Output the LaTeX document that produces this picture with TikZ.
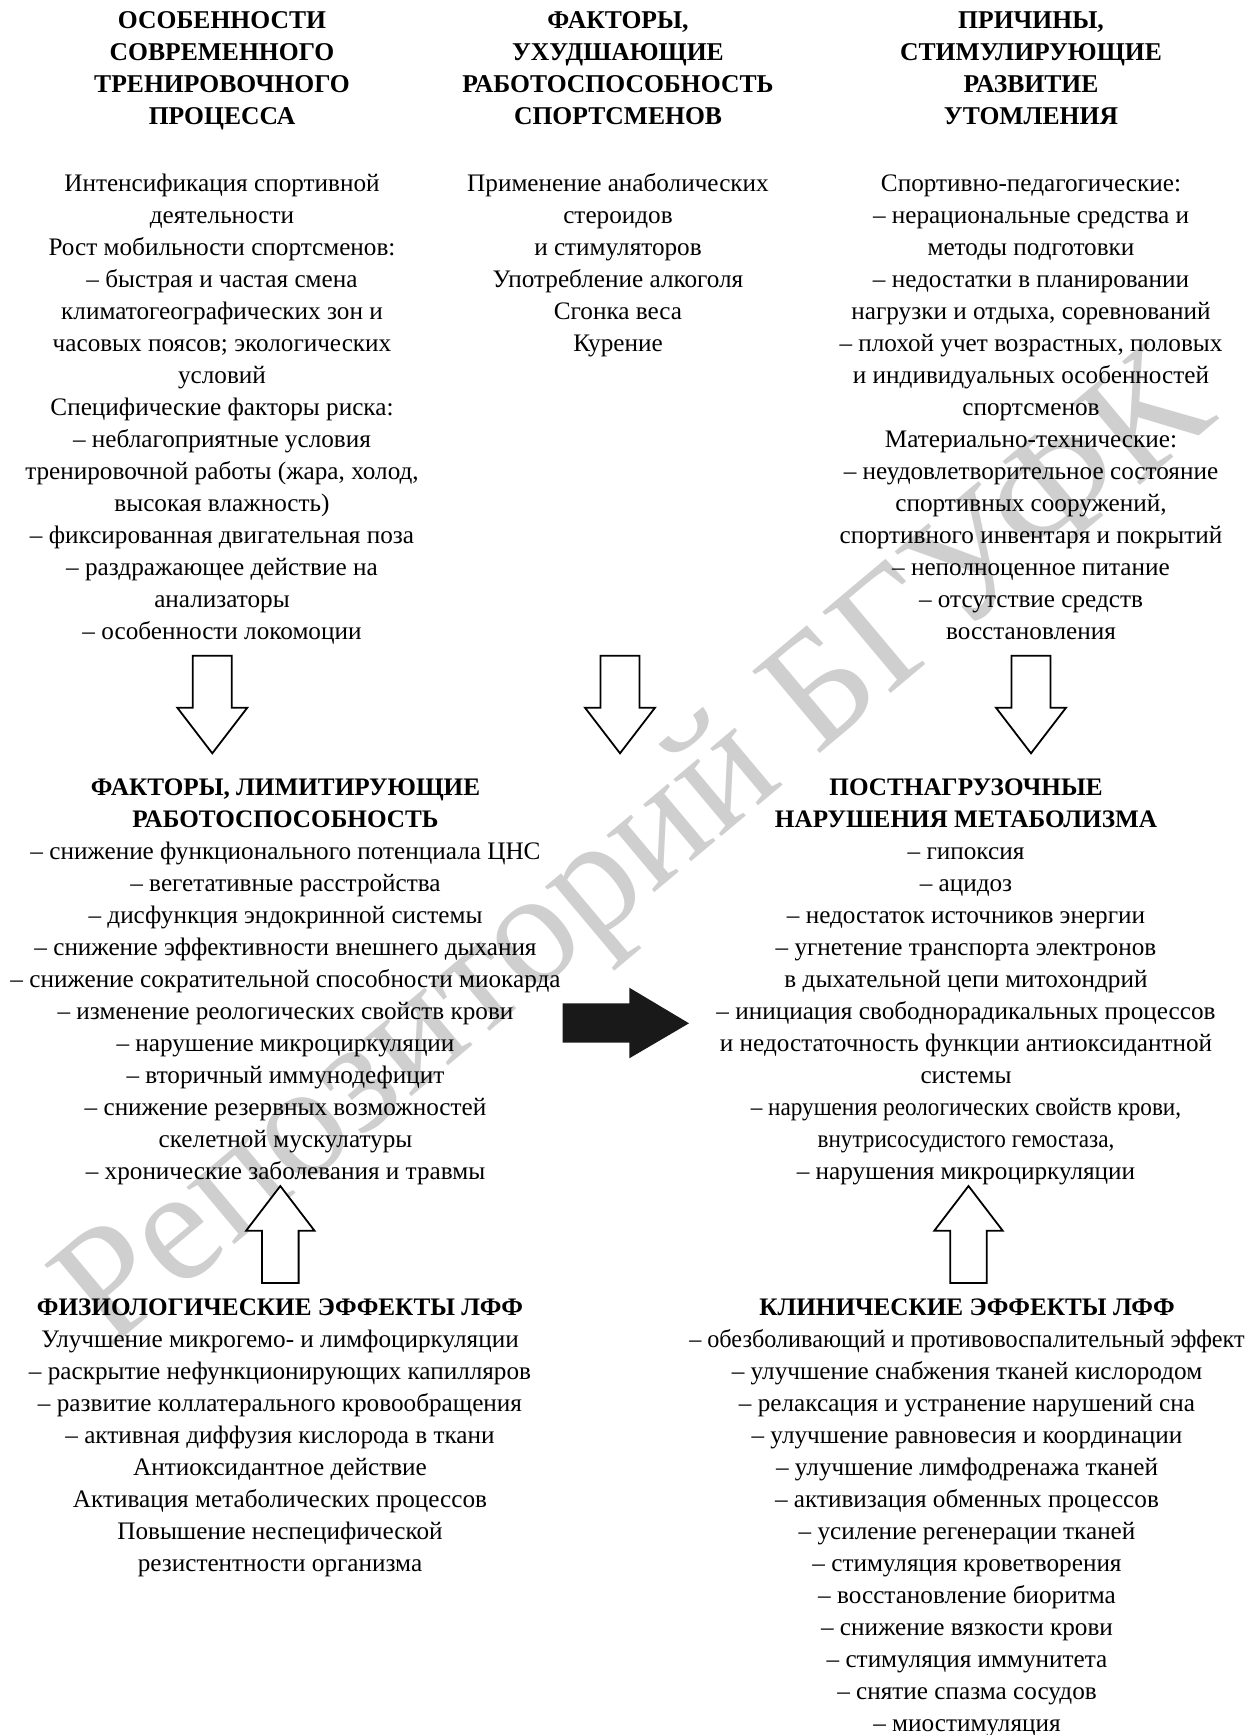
\documentclass[tikz,border=0pt]{standalone}
\usepackage{fontspec}
\setmainfont{Liberation Serif}
\usepackage{graphicx}
\newcommand\blk[1]{\begin{tabular}[t]{@{}c@{}}#1\end{tabular}}
\newcommand\cnd[2]{\scalebox{#1}[1]{#2}}
\tikzset{
  hdtext/.style={font=\bfseries\fontsize{12.8}{16}\selectfont, inner sep=0pt, anchor=base},
  bdtext/.style={font=\fontsize{12.6}{16}\selectfont, inner sep=0pt, anchor=base},
  hollowarrow/.style={draw=black, line width=0.9pt, fill=white, line join=miter},
  solidarrow/.style={fill=black!90, draw=none},
  watermark/.style={font=\fontsize{81}{90}\selectfont, text=black!19, inner sep=0pt, rotate=40},
  pics/downarr/.style={code={
    \draw[hollowarrow] (-19.5,0) -- (19.5,0) -- (19.5,52) -- (35,52) -- (0,97.6) -- (-35,52) -- (-19.5,52) -- cycle;}},
  pics/uparr/.style={code={
    \draw[hollowarrow] (-18.3,0) -- (18.3,0) -- (18.3,-52.3) -- (34.2,-52.3) -- (0,-97) -- (-34.2,-52.3) -- (-18.3,-52.3) -- cycle;}}
}
\begin{document}
\begin{tikzpicture}[x=0.5pt,y=-0.5pt]
\useasboundingbox (0,0) rectangle (1248,1735);
\fill[white] (0,0) rectangle (1248,1735);

\node[watermark] (wm) at (640,855) {Репозиторий БГУФК};

% top headers
\node[hdtext] (h1) at (222,28.5) {\blk{ОСОБЕННОСТИ\\СОВРЕМЕННОГО\\ТРЕНИРОВОЧНОГО\\ПРОЦЕССА}};
\node[hdtext] (h2) at (618,28.5) {\blk{ФАКТОРЫ,\\УХУДШАЮЩИЕ\\РАБОТОСПОСОБНОСТЬ\\СПОРТСМЕНОВ}};
\node[hdtext] (h3) at (1031,28.5) {\blk{ПРИЧИНЫ,\\СТИМУЛИРУЮЩИЕ\\РАЗВИТИЕ\\УТОМЛЕНИЯ}};

% top bodies
\node[bdtext] (b1) at (222,191) {\blk{Интенсификация спортивной\\деятельности\\Рост мобильности спортсменов:\\– быстрая и частая смена\\климатогеографических зон и\\часовых поясов; экологических\\условий\\Специфические факторы риска:\\– неблагоприятные условия\\тренировочной работы (жара, холод,\\высокая влажность)\\– фиксированная двигательная поза\\– раздражающее действие на\\анализаторы\\– особенности локомоции}};
\node[bdtext] (b2) at (618,191) {\blk{Применение анаболических\\стероидов\\и стимуляторов\\Употребление алкоголя\\Сгонка веса\\Курение}};
\node[bdtext] (b3) at (1031,191) {\blk{Спортивно-педагогические:\\– нерациональные средства и\\методы подготовки\\– недостатки в планировании\\нагрузки и отдыха, соревнований\\– плохой учет возрастных, половых\\и индивидуальных особенностей\\спортсменов\\Материально-технические:\\– неудовлетворительное состояние\\спортивных сооружений,\\спортивного инвентаря и покрытий\\– неполноценное питание\\– отсутствие средств\\восстановления}};

% down arrows
\pic (d1) at (212.3,655.7) {downarr};
\pic (d2) at (620,655.7) {downarr};
\pic (d3) at (1031,655.7) {downarr};

% middle blocks
\node[bdtext] (m1) at (285.5,795) {\blk{\textbf{ФАКТОРЫ, ЛИМИТИРУЮЩИЕ}\\\textbf{РАБОТОСПОСОБНОСТЬ}\\– снижение функционального потенциала ЦНС\\– вегетативные расстройства\\– дисфункция эндокринной системы\\– снижение эффективности внешнего дыхания\\– снижение сократительной способности миокарда\\– изменение реологических свойств крови\\– нарушение микроциркуляции\\– вторичный иммунодефицит\\– снижение резервных возможностей\\скелетной мускулатуры\\– хронические заболевания и травмы}};
\node[bdtext] (m2) at (966,795) {\blk{\textbf{ПОСТНАГРУЗОЧНЫЕ}\\\textbf{НАРУШЕНИЯ МЕТАБОЛИЗМА}\\– гипоксия\\– ацидоз\\– недостаток источников энергии\\– угнетение транспорта электронов\\в дыхательной цепи митохондрий\\– инициация свободнорадикальных процессов\\и недостаточность функции антиоксидантной\\системы\\\cnd{0.92}{– нарушения реологических свойств крови,}\\\cnd{0.92}{внутрисосудистого гемостаза,}\\– нарушения микроциркуляции}};

% black arrow
\fill[solidarrow] (562.7,1003.3) -- (629.3,1003.3) -- (629.3,987.7) -- (689,1023.3) -- (629.3,1058.3) -- (629.3,1042.7) -- (562.7,1042.7) -- cycle;

% up arrows
\pic (u1) at (280.3,1283) {uparr};
\pic (u2) at (968.5,1283) {uparr};

% bottom blocks
\node[bdtext] (l1) at (280,1315) {\blk{\textbf{ФИЗИОЛОГИЧЕСКИЕ ЭФФЕКТЫ ЛФФ}\\Улучшение микрогемо- и лимфоциркуляции\\– раскрытие нефункционирующих капилляров\\– развитие коллатерального кровообращения\\– активная диффузия кислорода в ткани\\Антиоксидантное действие\\Активация метаболических процессов\\Повышение неспецифической\\резистентности организма}};
\node[bdtext] (l2) at (967,1315) {\blk{\textbf{КЛИНИЧЕСКИЕ ЭФФЕКТЫ ЛФФ}\\\cnd{0.96}{– обезболивающий и противовоспалительный эффект}\\– улучшение снабжения тканей кислородом\\– релаксация и устранение нарушений сна\\– улучшение равновесия и координации\\– улучшение лимфодренажа тканей\\– активизация обменных процессов\\– усиление регенерации тканей\\– стимуляция кроветворения\\– восстановление биоритма\\– снижение вязкости крови\\– стимуляция иммунитета\\– снятие спазма сосудов\\– миостимуляция}};
\end{tikzpicture}
\end{document}
